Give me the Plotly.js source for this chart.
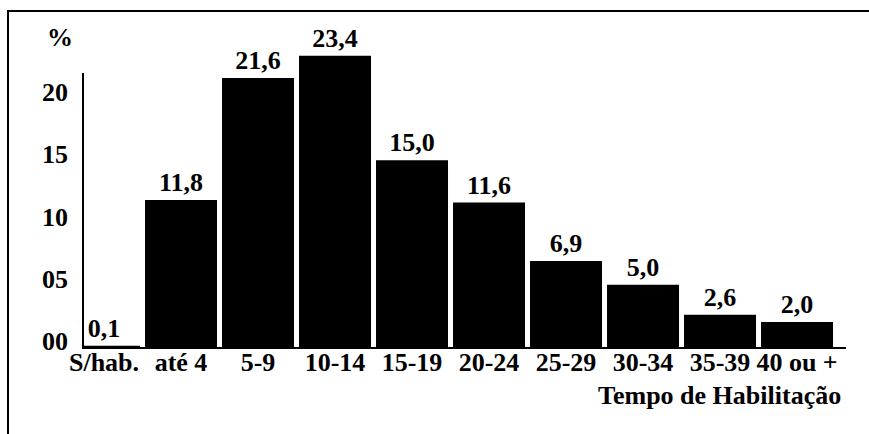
<!DOCTYPE html>
<html>
<head>
<meta charset="utf-8">
<script src="https://cdn.plot.ly/plotly-3.0.1.min.js"></script>
<style>
  html, body { margin: 0; padding: 0; background: #fff; }
  #wrap { position: relative; width: 869px; height: 434px; }
  #chart { width: 869px; height: 434px; }
  #frame { position: absolute; left: 7px; top: 10px; width: 862px; height: 424px;
           border-top: 2px solid #000; border-left: 2px solid #000; box-sizing: border-box;
           pointer-events: none; }
</style>
</head>
<body>
<div id="wrap">
  <div id="chart"></div>
  <div id="frame"></div>
</div>
<script>
const categories = ['S/hab.', 'até 4', '5-9', '10-14', '15-19', '20-24', '25-29', '30-34', '35-39', '40 ou +'];
const percentValues = [0.1, 11.8, 21.6, 23.4, 15.0, 11.6, 6.9, 5.0, 2.6, 2.0];
const yTickValues = [0, 5, 10, 15, 20];
const yTickLabels = ['00', '05', '10', '15', '20'];
const xAxisTitle = 'Tempo de Habilitação';
const yAxisUnit = '%';

const FONT = 'Liberation Serif';
const FS = 26;
const valueLabels = percentValues.map(v => v.toFixed(1).replace('.', ','));

const trace = {
  type: 'bar',
  x: categories,
  y: percentValues,
  marker: { color: '#000000', line: { width: 0 } },
  text: valueLabels,
  textposition: 'outside',
  cliponaxis: false,
  textfont: { family: FONT, size: FS, color: '#000', weight: 'bold' },
  hoverinfo: 'skip'
};

const layout = {
  width: 869,
  height: 434,
  margin: { l: 82, r: 23, t: 40, b: 87 },
  paper_bgcolor: '#fff',
  plot_bgcolor: '#fff',
  showlegend: false,
  bargap: 0.065,
  font: { family: FONT, size: FS, color: '#000', weight: 'bold' },
  xaxis: {
    type: 'category',
    range: [-0.2857, 9.636],
    showgrid: false,
    zeroline: false,
    showline: true,
    linecolor: '#000',
    linewidth: 2,
    ticks: '',
    ticklabelstandoff: -9,
    tickfont: { family: FONT, size: FS, color: '#000', weight: 'bold' },
    fixedrange: true
  },
  yaxis: {
    range: [0, 24.66],
    showgrid: false,
    zeroline: false,
    showline: false,
    ticks: '',
    tickmode: 'array',
    tickvals: yTickValues,
    ticktext: yTickLabels,
    ticklabelstandoff: 13,
    ticklabelshift: -6,
    tickfont: { family: FONT, size: FS, color: '#000', weight: 'bold' },
    fixedrange: true
  },
  shapes: [
    { type: 'line', layer: 'above', xref: 'paper', yref: 'y', x0: 0.0013, x1: 0.0013, y0: 0, y1: 22,
      line: { color: '#000', width: 2 } }
  ],
  annotations: [
    { text: xAxisTitle, xref: 'paper', yref: 'paper', x: 0.996, y: -0.1577,
      xanchor: 'right', yanchor: 'middle', showarrow: false,
      font: { family: FONT, size: FS, color: '#000', weight: 'bold' } },
    { text: yAxisUnit, xref: 'paper', yref: 'paper', x: -0.02945, y: 1.0085,
      xanchor: 'center', yanchor: 'middle', showarrow: false,
      font: { family: FONT, size: FS, color: '#000', weight: 'bold' } }
  ]
};

Plotly.newPlot('chart', [trace], layout, { displayModeBar: false, staticPlot: true });
</script>
</body>
</html>
